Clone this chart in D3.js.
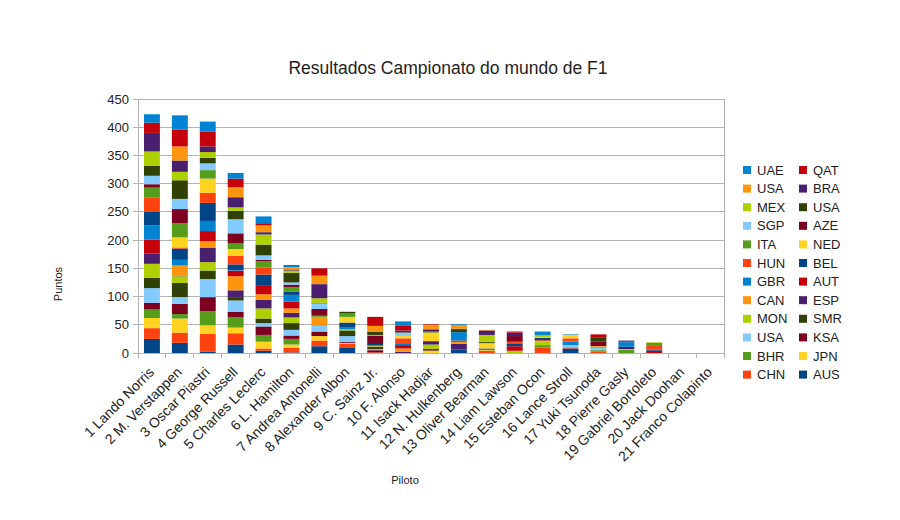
<!DOCTYPE html>
<html>
<head>
<meta charset="utf-8">
<script src="https://cdn.jsdelivr.net/npm/d3@7"></script>
<style>
  body { margin: 0; background: #fff; }
  svg text { font-family: "Liberation Sans", Arial, sans-serif; fill: #222; }
</style>
</head>
<body>
<svg id="chart" width="900" height="520"></svg>
<script>
// corridas (ordem do campeonato)
var races = ["AUS","CHN","JPN","BHR","KSA","USA","SMR","MON","ESP","CAN","AUT","GBR",
             "BEL","HUN","NED","ITA","AZE","SGP","USA","MEX","BRA","USA","QAT","UAE"];

var pilotos = ["1 Lando Norris","2 M. Verstappen","3 Oscar Piastri","4 George Russell",
  "5 Charles Leclerc","6 L. Hamilton","7 Andrea Antonelli","8 Alexander Albon","9 C. Sainz Jr.",
  "10 F. Alonso","11 Isack Hadjar","12 N. Hulkenberg","13 Oliver Bearman","14 Liam Lawson",
  "15 Esteban Ocon","16 Lance Stroll","17 Yuki Tsunoda","18 Pierre Gasly","19 Gabriel Bortoleto",
  "20 Jack Doohan","21 Franco Colapinto"];

// pontos por corrida, um array por piloto
var norris     = [25,19,18,15,12,26,18,25,18,0,25,25,24,25,0,18,6,15,18,25,33,0,18,15];
var verstappen = [18,18,25,8,18,12,25,12,1,18,0,10,20,2,18,25,25,18,33,15,20,25,30,25];
var piastri    = [2,32,15,25,25,32,15,15,25,12,18,18,32,18,25,15,0,12,10,10,10,0,26,18];
var russell    = [15,20,10,18,10,20,6,0,12,25,10,1,10,15,12,10,18,25,15,6,18,18,15,10];
var leclerc    = [4,4,12,12,15,6,8,18,15,10,15,0,20,12,0,12,2,8,19,18,4,12,4,12];
var hamilton   = [1,8,6,10,6,10,12,10,8,8,12,12,6,0,0,8,4,4,17,4,2,4,0,4];
var antonelli  = [12,10,8,0,8,10,0,0,0,15,0,0,0,1,0,2,12,10,1,8,25,15,13,0];
var albon      = [10,6,2,0,2,10,10,2,0,0,0,4,8,0,10,6,0,0,3,0,0,0,0,0];
var sainz      = [0,1,0,0,4,2,4,1,0,1,0,0,3,0,0,0,15,1,6,0,0,10,16,0];
var alonso     = [0,0,0,0,0,0,0,0,2,6,6,2,0,10,4,0,0,6,1,0,3,0,8,8];
var hadjar     = [0,0,4,0,1,0,2,8,6,0,0,0,0,0,15,1,1,0,0,0,4,8,1,0];
var hulkenberg = [6,0,0,0,0,0,0,0,10,4,2,15,0,0,0,0,0,0,4,0,2,6,0,2];
var bearman    = [0,4,1,1,0,0,0,0,0,0,0,0,2,0,8,0,0,2,2,12,8,1,0,0];
var lawson     = [0,0,0,0,0,0,0,4,0,0,8,0,4,4,0,0,10,0,0,0,6,0,2,0];
var ocon       = [0,10,0,4,0,0,0,6,0,2,1,0,4,0,1,0,0,0,0,2,0,2,0,6];
var stroll     = [8,2,0,0,0,4,0,0,0,0,0,6,0,6,6,0,0,0,0,0,0,0,0,1];
var tsunoda    = [0,3,0,2,0,4,1,0,0,0,0,0,0,0,2,0,8,0,8,0,0,0,5,0];
var gasly      = [0,0,0,6,0,1,0,0,4,0,0,8,1,0,0,0,0,0,0,0,2,0,0,0];
var bortoleto  = [0,0,0,0,0,0,0,0,0,0,4,0,2,8,0,4,0,0,0,1,0,0,0,0];
var doohan     = [0,0,0,0,0,0,0,0,0,0,0,0,0,0,0,0,0,0,0,0,0,0,0,0];
var colapinto  = [0,0,0,0,0,0,0,0,0,0,0,0,0,0,0,0,0,0,0,0,0,0,0,0];

var yTicks = [0,50,100,150,200,250,300,350,400,450];

var rows = [norris, verstappen, piastri, russell, leclerc, hamilton, antonelli, albon, sainz,
  alonso, hadjar, hulkenberg, bearman, lawson, ocon, stroll, tsunoda, gasly, bortoleto,
  doohan, colapinto];

var palette = ["#004586","#ff420e","#ffd320","#579d1c","#7e0021","#83caff",
               "#314004","#aecf00","#4b1f6f","#ff950e","#c5000b","#0084d1"];

var keys = races.map(function(r, i) { return "k" + i; });
var table = rows.map(function(row, j) {
  var o = { piloto: pilotos[j] };
  row.forEach(function(v, i) { o[keys[i]] = v; });
  return o;
});

var svg = d3.select("#chart");
var plotL = 138, plotR = 724, plotT = 99, plotB = 353;

var x = d3.scaleBand().domain(pilotos).range([plotL, plotR]).paddingInner(0.43).paddingOuter(0.215);
var y = d3.scaleLinear().domain([0, 450]).range([plotB, plotT]);
var color = function(i) { return palette[i % palette.length]; };

// grade
svg.append("g")
  .selectAll("line")
  .data(yTicks)
  .enter().append("line")
  .attr("x1", plotL - 5).attr("x2", plotR)
  .attr("y1", function(d) { return y(d); })
  .attr("y2", function(d) { return y(d); })
  .attr("stroke", "#b3b3b3").attr("stroke-width", 1)
  .attr("shape-rendering", "crispEdges");

svg.append("line")
  .attr("x1", plotR).attr("x2", plotR).attr("y1", plotT).attr("y2", plotB)
  .attr("stroke", "#b3b3b3").attr("shape-rendering", "crispEdges");
svg.append("line")
  .attr("x1", plotL).attr("x2", plotL).attr("y1", plotT).attr("y2", plotB)
  .attr("stroke", "#b3b3b3").attr("shape-rendering", "crispEdges");

// barras empilhadas
var series = d3.stack().keys(keys)(table);

svg.append("g")
  .selectAll("g")
  .data(series)
  .enter().append("g")
  .attr("fill", function(d, i) { return color(i); })
  .selectAll("rect")
  .data(function(d) { return d; })
  .enter().append("rect")
  .attr("x", function(d) { return x(d.data.piloto); })
  .attr("width", x.bandwidth())
  .attr("y", function(d) { return y(d[1]); })
  .attr("height", function(d) { return y(d[0]) - y(d[1]); });

// eixo x
svg.append("line")
  .attr("x1", plotL).attr("x2", plotR).attr("y1", plotB).attr("y2", plotB)
  .attr("stroke", "#b3b3b3").attr("shape-rendering", "crispEdges");

var step = x.step();
svg.append("g")
  .selectAll("line")
  .data(d3.range(pilotos.length + 1))
  .enter().append("line")
  .attr("x1", function(i) { return plotL + i * step; })
  .attr("x2", function(i) { return plotL + i * step; })
  .attr("y1", plotB).attr("y2", plotB + 5)
  .attr("stroke", "#b3b3b3").attr("shape-rendering", "crispEdges");

// rótulos y
svg.append("g")
  .selectAll("text")
  .data(yTicks)
  .enter().append("text")
  .attr("x", plotL - 9)
  .attr("y", function(d) { return y(d); })
  .attr("dy", "0.35em")
  .attr("text-anchor", "end")
  .style("font-size", "13px")
  .text(function(d) { return d; });

// rótulos x
svg.append("g")
  .selectAll("text")
  .data(pilotos)
  .enter().append("text")
  .attr("transform", function(d) {
    return "translate(" + (x(d) + x.bandwidth() / 2 + 3) + "," + (plotB + 20) + ") rotate(-45)";
  })
  .attr("text-anchor", "end")
  .style("font-size", "14px")
  .text(function(d) { return d; });

// títulos
svg.append("text")
  .attr("x", 448).attr("y", 74)
  .attr("text-anchor", "middle")
  .style("font-size", "17.5px")
  .text("Resultados Campionato do mundo de F1");

svg.append("text")
  .attr("transform", "translate(62,284) rotate(-90)")
  .attr("text-anchor", "middle")
  .style("font-size", "11px")
  .text("Puntos");

svg.append("text")
  .attr("x", 405).attr("y", 484)
  .attr("text-anchor", "middle")
  .style("font-size", "11px")
  .text("Piloto");

// legenda (ordem inversa, duas colunas)
var legend = svg.append("g")
  .selectAll("g")
  .data(races.map(function(r, i) { return i; }).reverse())
  .enter().append("g")
  .attr("transform", function(d, k) {
    return "translate(" + (743 + (k % 2) * 56) + "," + (170 + Math.floor(k / 2) * 18.6) + ")";
  });

legend.append("rect")
  .attr("x", 0).attr("y", -4).attr("width", 8).attr("height", 8)
  .attr("fill", function(i) { return color(i); });

legend.append("text")
  .attr("x", 14).attr("dy", "0.36em")
  .style("font-size", "13px")
  .text(function(i) { return races[i]; });
</script>
</body>
</html>
